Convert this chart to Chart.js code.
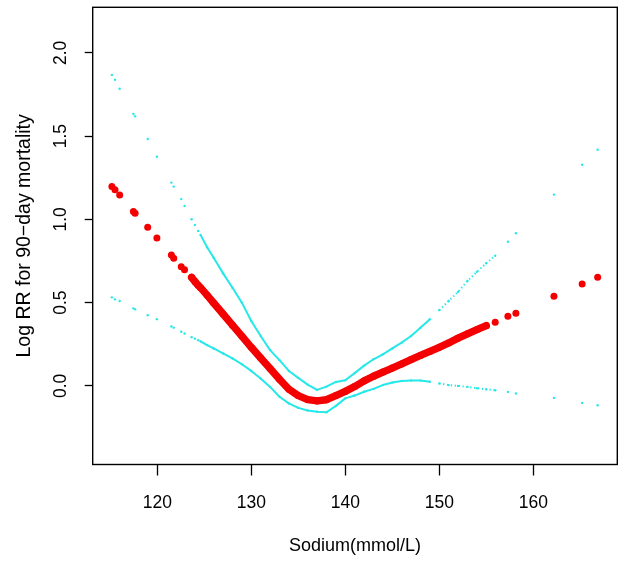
<!DOCTYPE html>
<html lang="en">
<head>
  <meta charset="UTF-8">
  <title>Sodium and 90-day mortality</title>
  <script src="https://cdn.jsdelivr.net/npm/chart.js"></script>
  <style>
    body { margin: 0; background: #fff; }
    #wrap { width: 624px; height: 561px; position: relative; }
  </style>
</head>
<body>
  <div id="wrap"><canvas id="rcsChart"></canvas></div>
  <script>
    // values
    const sodium = [115.17, 115.5, 116.0, 117.46, 117.64, 118.98, 119.96, 121.5, 121.75, 122.55, 122.9,
      123.65, 124.0, 124.35, 124.6, 125.3, 126, 127, 128, 129, 130, 131, 132, 133, 134, 135, 136, 137,
      138, 139, 140, 141, 142, 143, 144, 145, 146, 147, 148, 149, 150, 151, 152, 153, 154, 155,
      155.95, 157.3, 158.15, 162.2, 165.2, 166.85];
    const logRR = [1.197, 1.178, 1.147, 1.047, 1.037, 0.953, 0.889, 0.786, 0.767, 0.716, 0.698,
      0.652, 0.627, 0.604, 0.590, 0.545, 0.498, 0.432, 0.365, 0.299, 0.232, 0.168, 0.105, 0.040, -0.020,
      -0.058, -0.082, -0.090, -0.083, -0.058, -0.033, -0.004, 0.030, 0.058, 0.083, 0.107, 0.132, 0.158,
      0.183, 0.207, 0.232, 0.258, 0.287, 0.313, 0.338, 0.362, 0.383, 0.418, 0.437, 0.538, 0.612, 0.652];
    const lowerCI = [0.532, 0.52, 0.51, 0.466, 0.46, 0.425, 0.401, 0.357, 0.350, 0.325, 0.315,
      0.293, 0.284, 0.275, 0.268, 0.245, 0.225, 0.195, 0.165, 0.13, 0.09, 0.045, -0.006, -0.065, -0.105,
      -0.132, -0.148, -0.155, -0.158, -0.12, -0.075, -0.058, -0.035, -0.018, 0.005, 0.02, 0.03, 0.033,
      0.032, 0.025, 0.015, 0.005, 0.0, -0.006, -0.014, -0.02, -0.026, -0.036, -0.046, -0.072, -0.102, -0.116];
    const upperCI = [1.868, 1.839, 1.785, 1.633, 1.619, 1.483, 1.376, 1.221, 1.197, 1.122, 1.081,
      1.001, 0.967, 0.931, 0.907, 0.833, 0.77, 0.676, 0.59, 0.50, 0.39, 0.30, 0.215, 0.155, 0.09,
      0.048, 0.008, -0.024, -0.004, 0.024, 0.034, 0.077, 0.122, 0.16, 0.19, 0.225, 0.26, 0.30,
      0.35, 0.40, 0.455, 0.51, 0.565, 0.63, 0.685, 0.737, 0.782, 0.866, 0.917, 1.149, 1.328, 1.418];
    const xTicks = [120, 130, 140, 150, 160];
    const yTicks = [0, 0.5, 1.0, 1.5, 2.0];

    const RED = '#f50000';
    const CYAN = '#26e8e8';
    const FONT = '"Liberation Sans", Arial, sans-serif';

    function pts(ys) {
      return sodium.map((x, i) => ({ x: x, y: ys[i] }));
    }

    // where the points sit so close that they read as a continuous band
    function within(ctx, lo, hi) {
      const a = sodium[ctx.p0DataIndex], b = sodium[ctx.p1DataIndex];
      return a >= lo && b <= hi;
    }
    const redSegment = {
      borderColor: ctx => within(ctx, 123.6, 155.1) ? RED : 'transparent'
    };
    const cyanSegment = {
      borderColor: ctx => (within(ctx, 124.5, 149.6) || within(ctx, 149.5, 156.1)) ? CYAN : 'transparent',
      borderDash: ctx => within(ctx, 149.5, 156.1) ? [1.3, 2.6] : []
    };

    // plot frame like R's box()
    const boxPlugin = {
      id: 'box',
      afterDatasetsDraw(chart) {
        const a = chart.chartArea, c = chart.ctx;
        c.save();
        c.strokeStyle = '#000';
        c.lineWidth = 1.4;
        c.strokeRect(a.left, a.top, a.right - a.left, a.bottom - a.top);
        c.restore();
      }
    };

    document.addEventListener('DOMContentLoaded', function() {
      const ctx = document.getElementById('rcsChart').getContext('2d');
      new Chart(ctx, {
        type: 'scatter',
        data: {
          datasets: [{
            label: 'Log RR',
            data: pts(logRR),
            showLine: true,
            borderColor: RED,
            borderWidth: 7.4,
            borderCapStyle: 'round',
            borderJoinStyle: 'round',
            backgroundColor: RED,
            pointBackgroundColor: RED,
            pointBorderWidth: 0,
            pointRadius: 3.5,
            segment: redSegment
          }, {
            label: 'Upper 95% CI',
            data: pts(upperCI),
            showLine: true,
            borderColor: CYAN,
            borderWidth: 2,
            borderJoinStyle: 'round',
            pointBackgroundColor: CYAN,
            pointBorderWidth: 0,
            pointRadius: 1.2,
            segment: cyanSegment
          }, {
            label: 'Lower 95% CI',
            data: pts(lowerCI),
            showLine: true,
            borderColor: CYAN,
            borderWidth: 2,
            borderJoinStyle: 'round',
            pointBackgroundColor: CYAN,
            pointBorderWidth: 0,
            pointRadius: 1.2,
            segment: cyanSegment
          }]
        },
        options: {
          responsive: true,
          maintainAspectRatio: false,
          animation: false,
          layout: { padding: { top: 7.3, right: 6.7, left: 0, bottom: 0 } },
          plugins: {
            legend: { display: false },
            tooltip: { enabled: false }
          },
          scales: {
            x: {
              type: 'linear',
              min: 113.13,
              max: 168.94,
              afterFit: s => { s.height = 96.5; s.paddingLeft = 0; s.paddingRight = 0; },
              afterBuildTicks: s => { s.ticks = xTicks.map(v => ({ value: v })); },
              grid: {
                drawOnChartArea: false,
                drawTicks: true,
                tickLength: 11,
                tickColor: '#000',
                tickWidth: 1.3
              },
              border: { display: false },
              ticks: {
                color: '#000',
                padding: 17,
                maxRotation: 0,
                font: { family: FONT, size: 17.5 },
                callback: v => String(v)
              },
              title: {
                display: true,
                text: 'Sodium(mmol/L)',
                color: '#000',
                font: { family: FONT, size: 18 },
                padding: { top: 0, bottom: 4 }
              }
            },
            y: {
              type: 'linear',
              min: -0.472,
              max: 2.274,
              afterFit: s => { s.width = 92.7; s.paddingTop = 0; s.paddingBottom = 0; },
              afterBuildTicks: s => { s.ticks = yTicks.map(v => ({ value: v })); },
              grid: {
                drawOnChartArea: false,
                drawTicks: true,
                tickLength: 8,
                tickColor: '#000',
                tickWidth: 1.3
              },
              border: { display: false },
              ticks: {
                color: '#000',
                padding: 11,
                minRotation: 90,
                maxRotation: 90,
                crossAlign: 'center',
                font: { family: FONT, size: 17.5 },
                callback: v => Number(v).toFixed(1)
              },
              title: {
                display: true,
                text: 'Log RR for 90\u2212day mortality',
                color: '#000',
                font: { family: FONT, size: 19.5 },
                padding: { top: 13, bottom: 0 }
              }
            }
          }
        },
        plugins: [boxPlugin]
      });
    });
  </script>
</body>
</html>
